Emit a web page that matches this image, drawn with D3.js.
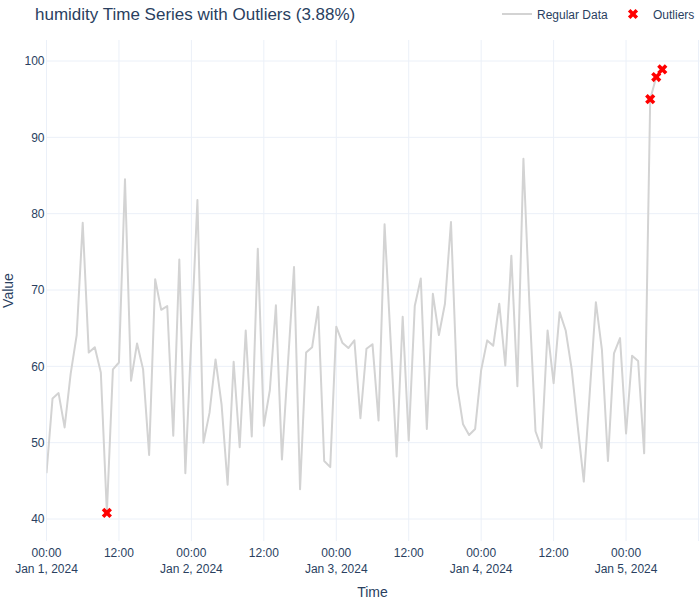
<!DOCTYPE html>
<html>
<head>
<meta charset="utf-8">
<script src="https://cdn.jsdelivr.net/npm/d3@7"></script>
<style>
    body { margin: 0; background: #fff; }
    svg { display: block; font-family: "Liberation Sans", Arial, sans-serif; }
</style>
</head>
<body>
<svg id="chart" width="700" height="600"></svg>
<script>
const startTime = "2024-01-01T00:00:00Z"
const endTime = "2024-01-05T12:00:00Z"

// hourly readings, one per hour from startTime
const humidity = [
    46.0, 55.8, 56.5, 52.0, 59.0, 64.1, 78.8, 61.8, 62.5, 59.2,
    40.8, 59.6, 60.5, 84.5, 58.1, 63.0, 59.6, 48.4, 71.4, 67.4,
    67.9, 50.9, 74.0, 46.0, 63.9, 81.8, 50.0, 53.9, 60.9, 55.0,
    44.5, 60.6, 49.4, 64.7, 50.8, 75.4, 52.2, 56.9, 68.0, 47.8,
    60.4, 73.0, 43.9, 61.8, 62.5, 67.8, 47.6, 46.8, 65.2, 63.1,
    62.4, 63.4, 53.2, 62.3, 62.9, 52.9, 78.6, 63.4, 48.2, 66.5,
    50.3, 67.9, 71.5, 51.8, 69.5, 64.1, 68.2, 78.9, 57.5, 52.4,
    51.0, 51.8, 59.5, 63.4, 62.7, 68.2, 60.1, 74.5, 57.4, 87.2,
    68.0, 51.5, 49.3, 64.7, 57.8, 67.1, 64.7, 59.6, 52.1, 44.9,
    56.7, 68.4, 62.2, 47.6, 61.7, 63.7, 51.2, 61.4, 60.7, 48.6,
    95.0, 97.9, 98.9
]
const outlierIdx = [10, 100, 101, 102]
const yTicks = [40, 50, 60, 70, 80, 90, 100]
const legendLabels = ["Regular Data", "Outliers"]
const title = "humidity Time Series with Outliers (3.88%)"

const textColor = "#2a3f5f"
const gridColor = "#EBF0F8"

const plot = { left: 46.5, right: 698.5, top: 40, bottom: 541 }

const t0 = new Date(startTime)
const data = humidity.map((v, i) => ({ t: d3.utcHour.offset(t0, i), v: v }))
const outliers = outlierIdx.map(i => data[i])

const x = d3.scaleUtc()
    .domain([t0, new Date(endTime)])
    .range([plot.left, plot.right])

const y = d3.scaleLinear()
    .domain([40, 100])
    .range([519, 61])

const svg = d3.select("#chart")

// grid
const xTicks = d3.utcHour.every(12).range(t0, d3.utcHour.offset(new Date(endTime), 1))
svg.append("g")
    .selectAll("line")
    .data(xTicks)
    .join("line")
    .attr("x1", d => x(d)).attr("x2", d => x(d))
    .attr("y1", plot.top).attr("y2", plot.bottom)
    .attr("stroke", gridColor)
    .attr("stroke-width", 1)

svg.append("g")
    .selectAll("line")
    .data(yTicks)
    .join("line")
    .attr("x1", plot.left).attr("x2", plot.right + 1)
    .attr("y1", d => y(d)).attr("y2", d => y(d))
    .attr("stroke", gridColor)
    .attr("stroke-width", 1)

// y axis labels
svg.append("g")
    .selectAll("text")
    .data(yTicks)
    .join("text")
    .attr("x", plot.left - 2)
    .attr("y", d => y(d))
    .attr("dy", "0.35em")
    .attr("text-anchor", "end")
    .attr("fill", textColor)
    .style("font-size", "12px")
    .text(d => d)

// x axis labels (last one sits on the edge, plotly drops it)
const timeFmt = d3.utcFormat("%H:%M")
const dateFmt = d3.utcFormat("%b %-d, %Y")
const xLabels = svg.append("g")
    .selectAll("text")
    .data(xTicks.filter(d => x(d) < plot.right - 1))
    .join("text")
    .attr("x", d => x(d))
    .attr("y", 557)
    .attr("text-anchor", "middle")
    .attr("fill", textColor)
    .style("font-size", "12px")

xLabels.append("tspan")
    .attr("x", d => x(d))
    .text(d => timeFmt(d))

xLabels.filter(d => d.getUTCHours() === 0)
    .append("tspan")
    .attr("x", d => x(d))
    .attr("dy", 16)
    .text(d => dateFmt(d))

// axis titles
svg.append("text")
    .attr("x", (plot.left + plot.right) / 2)
    .attr("y", 597)
    .attr("text-anchor", "middle")
    .attr("fill", textColor)
    .style("font-size", "14px")
    .text("Time")

svg.append("text")
    .attr("transform", `translate(13, ${(plot.top + plot.bottom) / 2}) rotate(-90)`)
    .attr("text-anchor", "middle")
    .attr("fill", textColor)
    .style("font-size", "14px")
    .text("Value")

// title
svg.append("text")
    .attr("x", 35)
    .attr("y", 20)
    .attr("fill", textColor)
    .style("font-size", "17px")
    .text(title)

// series
svg.append("defs").append("clipPath")
    .attr("id", "plot-clip")
    .append("rect")
    .attr("x", plot.left).attr("y", plot.top)
    .attr("width", plot.right - plot.left + 2)
    .attr("height", plot.bottom - plot.top)

const line = d3.line()
    .x(d => x(d.t))
    .y(d => y(d.v))

svg.append("path")
    .datum(data)
    .attr("clip-path", "url(#plot-clip)")
    .attr("fill", "none")
    .attr("stroke", "lightgray")
    .attr("stroke-width", 2)
    .attr("stroke-linejoin", "round")
    .attr("d", line)

// plotly style "x" marker
function xSymbol(size) {
    const rx = +(size / 2 * 0.8 / Math.SQRT2).toFixed(2)
    const ne = `l${rx},${rx}`, se = `l${rx},-${rx}`, sw = `l-${rx},-${rx}`, nw = `l-${rx},${rx}`
    return `M0,${rx}` + ne + se + sw + se + sw + nw + sw + nw + ne + nw + ne + "Z"
}

svg.append("g")
    .selectAll("path")
    .data(outliers)
    .join("path")
    .attr("d", xSymbol(9))
    .attr("transform", d => `translate(${x(d.t)}, ${y(d.v)})`)
    .attr("fill", "red")

// legend
const legend = svg.append("g")
legend.append("line")
    .attr("x1", 502).attr("x2", 532)
    .attr("y1", 14).attr("y2", 14)
    .attr("stroke", "lightgray")
    .attr("stroke-width", 2)
legend.append("text")
    .attr("x", 537).attr("y", 18.5)
    .attr("fill", textColor)
    .style("font-size", "12px")
    .text(legendLabels[0])
legend.append("path")
    .attr("d", xSymbol(9))
    .attr("transform", "translate(633, 14)")
    .attr("fill", "red")
legend.append("text")
    .attr("x", 653).attr("y", 18.5)
    .attr("fill", textColor)
    .style("font-size", "12px")
    .text(legendLabels[1])
</script>
</body>
</html>
